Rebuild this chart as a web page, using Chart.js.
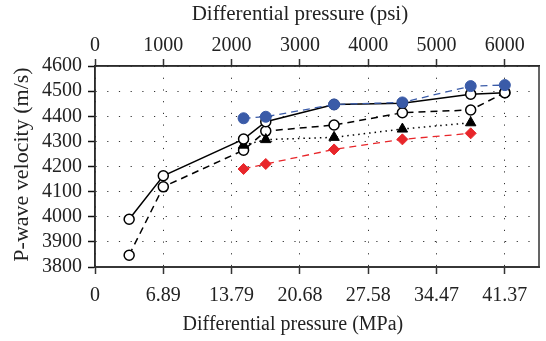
<!DOCTYPE html>
<html>
<head>
<meta charset="utf-8">
<script src="https://cdn.jsdelivr.net/npm/chart.js@4"></script>
<style>
  html, body { margin: 0; padding: 0; background: #fff; }
  #wrap { width: 546px; height: 341px; }
</style>
</head>
<body>
<div id="wrap"><canvas id="grafico"></canvas></div>
<script>
// pressure steps (psi) shared by every series, null = no measurement
const pressurePsi = [500, 1000, 2175, 2500, 3500, 4500, 5500, 6000];

const solidOpen  = [3990, 4163, 4309, 4378, 4447, 4452, 4488, 4494];
const dashedOpen = [3847, 4119, 4265, 4341, 4365, 4414, 4425, 4494];
const triangles  = [null, null, 4285, 4307, 4316, 4349, 4374, null];
const diamonds   = [null, null, 4190, 4210, 4268, 4308, 4332, null];
const blueDots   = [null, null, 4392, 4398, 4447, 4455, 4520, 4524];

// axis ticks
const psiTicks  = [0, 1000, 2000, 3000, 4000, 5000, 6000];
const mpaLabels = ['0', '6.89', '13.79', '20.68', '27.58', '34.47', '41.37'];
const velTicks  = [3800, 3900, 4000, 4100, 4200, 4300, 4400, 4500, 4600];

const toPoints = (vals) => pressurePsi.map((p, i) => ({ x: p, y: vals[i] })).filter(pt => pt.y !== null);

const serif = "'Liberation Serif', 'DejaVu Serif', serif";
Chart.defaults.font.family = serif;
Chart.defaults.font.size = 20;
Chart.defaults.color = '#222';

// frame round the plot area
const frame = {
    id: 'frame',
    beforeDatasetsDraw(chart) {
        const { ctx, chartArea: a } = chart;
        ctx.save();
        ctx.strokeStyle = '#333';
        ctx.lineWidth = 1.5;
        ctx.strokeRect(a.left, a.top, a.right - a.left, a.bottom - a.top);
        ctx.restore();
    }
};

// axis titles: the original centres them near the 3000 psi tick, not on the axis
const axisTitles = {
    id: 'axisTitles',
    afterDraw(chart) {
        const { ctx, chartArea: a } = chart;
        const cx = chart.scales.xTop.getPixelForValue(3000);
        ctx.save();
        ctx.fillStyle = '#222';
        ctx.textAlign = 'center';
        ctx.textBaseline = 'middle';
        ctx.font = '21px ' + serif;
        ctx.fillText('Differential pressure (psi)', cx, 14);
        ctx.font = '20px ' + serif;
        ctx.fillText('Differential pressure (MPa)', cx - 7, 325);
        ctx.translate(22, (a.top + a.bottom) / 2 - 2);
        ctx.rotate(-Math.PI / 2);
        ctx.font = '22px ' + serif;
        ctx.fillText('P-wave velocity (m/s)', 0, 0);
        ctx.restore();
    }
};

const ctx = document.getElementById('grafico');

new Chart(ctx, {
    type: 'line',
    data: {
        datasets: [
            {
                label: 'blue',
                data: toPoints(blueDots),
                borderColor: '#3a5ba8',
                backgroundColor: '#3a5ba8',
                borderWidth: 1.3,
                borderDash: [7, 5],
                pointRadius: 5.5,
                pointBorderWidth: 1
            },
            {
                label: 'solid',
                data: toPoints(solidOpen),
                borderColor: '#000',
                backgroundColor: '#fff',
                borderWidth: 1.5,
                pointRadius: 5,
                pointBorderWidth: 1.5
            },
            {
                label: 'triangles',
                data: toPoints(triangles),
                borderColor: '#000',
                backgroundColor: '#000',
                borderWidth: 1.5,
                borderDash: [1.5, 4],
                pointStyle: 'triangle',
                pointRadius: 6,
                pointBorderWidth: 1
            },
            {
                label: 'dashed',
                data: toPoints(dashedOpen),
                borderColor: '#000',
                backgroundColor: '#fff',
                borderWidth: 1.5,
                borderDash: [7, 5],
                pointRadius: 5,
                pointBorderWidth: 1.5
            },
            {
                label: 'red',
                data: toPoints(diamonds),
                borderColor: '#e8262a',
                backgroundColor: '#e8262a',
                borderWidth: 1.3,
                borderDash: [7, 5],
                pointStyle: 'rectRot',
                pointRadius: 5.5,
                pointBorderWidth: 1
            }
        ]
    },
    options: {
        responsive: true,
        maintainAspectRatio: false,
        animation: false,
        layout: { padding: { left: 0, right: 4, top: 0, bottom: 0 } },
        plugins: {
            legend: { display: false },
            tooltip: { enabled: false }
        },
        scales: {
            x: {
                type: 'linear',
                position: 'bottom',
                min: 0,
                max: 6500,
                afterBuildTicks: (scale) => { scale.ticks = psiTicks.map(v => ({ value: v })); },
                afterFit: (scale) => { scale.height = 74; },
                ticks: {
                    padding: 10,
                    maxRotation: 0,
                    autoSkip: false,
                    callback: (value) => {
                        const i = psiTicks.indexOf(value);
                        return i >= 0 ? mpaLabels[i] : '';
                    }
                },
                grid: {
                    color: '#333',
                    lineWidth: 1,
                    tickLength: 7,
                    tickColor: '#333',
                    tickWidth: 1.5
                },
                border: { display: true, color: '#444', width: 2, dash: [1.2, 10.5] }
            },
            xTop: {
                type: 'linear',
                position: 'top',
                min: 0,
                max: 6500,
                afterBuildTicks: (scale) => { scale.ticks = psiTicks.map(v => ({ value: v })); },
                afterFit: (scale) => { scale.height = 66; },
                ticks: { padding: 1, maxRotation: 0, autoSkip: false, callback: (value) => String(value) },
                grid: {
                    drawOnChartArea: false,
                    tickLength: 7,
                    tickColor: '#333',
                    tickWidth: 1.5
                },
                border: { display: true, color: '#111', width: 1.5 }
            },
            y: {
                min: 3800,
                max: 4600,
                afterBuildTicks: (scale) => { scale.ticks = velTicks.map(v => ({ value: v })); },
                afterFit: (scale) => { scale.width = 95; },
                ticks: { padding: 6, autoSkip: false, callback: (value) => String(value) },
                grid: {
                    color: '#333',
                    lineWidth: 1,
                    tickLength: 7,
                    tickColor: '#111',
                    tickWidth: 1.5
                },
                border: { display: true, color: '#111', width: 1.5, dash: [1.2, 10.5] }
            }
        }
    },
    plugins: [frame, axisTitles]
});
</script>
</body>
</html>
